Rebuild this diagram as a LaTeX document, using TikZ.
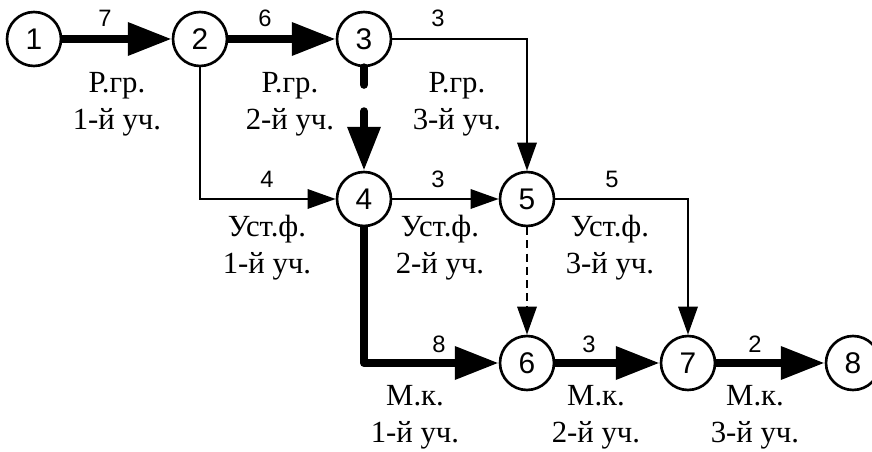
\documentclass[tikz,border=0pt]{standalone}
\usepackage{fontspec}
\setmainfont{Liberation Serif}
\newfontfamily\numfont{Liberation Sans}
\usetikzlibrary{arrows.meta}

\begin{document}
\begin{tikzpicture}[
            x=0.02cm, y=-0.02cm,
            event/.style = {circle, draw, line width=1.5pt, minimum size=1.08cm, inner sep=0pt, font=\numfont\fontsize{17}{20}\selectfont},
            work/.style = {align=center, font=\fontsize{17.5}{21}\selectfont},
            dur/.style = {font=\numfont\fontsize{13.5}{16}\selectfont},
            crit/.style = {line width=4.5pt, line join=round, -{Triangle[length=25pt, width=18pt]}},
            usual/.style = {line width=1.4pt, -{Triangle[length=16pt, width=11pt]}},
        ]
            \useasboundingbox (0,0) rectangle (872,452);

            % Events
            \node[event] (1) at (34,39) {1};
            \node[event] (2) at (200,39) {2};
            \node[event] (3) at (364,39) {3};
            \node[event] (4) at (364,199) {4};
            \node[event] (5) at (527,199) {5};
            \node[event] (6) at (527,363) {6};
            \node[event] (7) at (688,363) {7};
            \node[event] (8) at (853,363) {8};

            % Durations
            \node[dur] (d12) at (105,18) {7};
            \node[dur] (d23) at (265,18) {6};
            \node[dur] (d35) at (438,18) {3};
            \node[dur] (d24) at (267,179) {4};
            \node[dur] (d45) at (438,179) {3};
            \node[dur] (d57) at (612,179) {5};
            \node[dur] (d46) at (439,344) {8};
            \node[dur] (d67) at (589,344) {3};
            \node[dur] (d78) at (755,344) {2};

            % Works
            \node[work] (w12) at (117,104) {Р.гр.\\1-й уч.};
            \node[work] (w23) at (290,104) {Р.гр.\\2-й уч.};
            \node[work] (w35) at (457,104) {Р.гр.\\3-й уч.};
            \node[work] (w24) at (267,248) {Уст.ф.\\1-й уч.};
            \node[work] (w45) at (440,248) {Уст.ф.\\2-й уч.};
            \node[work] (w57) at (610,248) {Уст.ф.\\3-й уч.};
            \node[work] (w46) at (415,417) {М.к.\\1-й уч.};
            \node[work] (w67) at (596,417) {М.к.\\2-й уч.};
            \node[work] (w78) at (755,417) {М.к.\\3-й уч.};

            % Critical path
            \draw[crit] (1) -- (2);
            \draw[crit] (2) -- (3);
            \draw[crit, line cap=round, dash pattern=on 10pt off 15pt] (3) -- (4);
            \draw[crit] (4) |- (6);
            \draw[crit] (6) -- (7);
            \draw[crit] (7) -- (8);

            % Other works
            \draw[usual] (2) |- (4);
            \draw[usual] (3) -| (5);
            \draw[usual] (4) -- (5);
            \draw[usual] (5) -| (7);
            \draw[usual, dash pattern=on 4.5pt off 3pt] (5) -- (6);
        \end{tikzpicture}
\end{document}
